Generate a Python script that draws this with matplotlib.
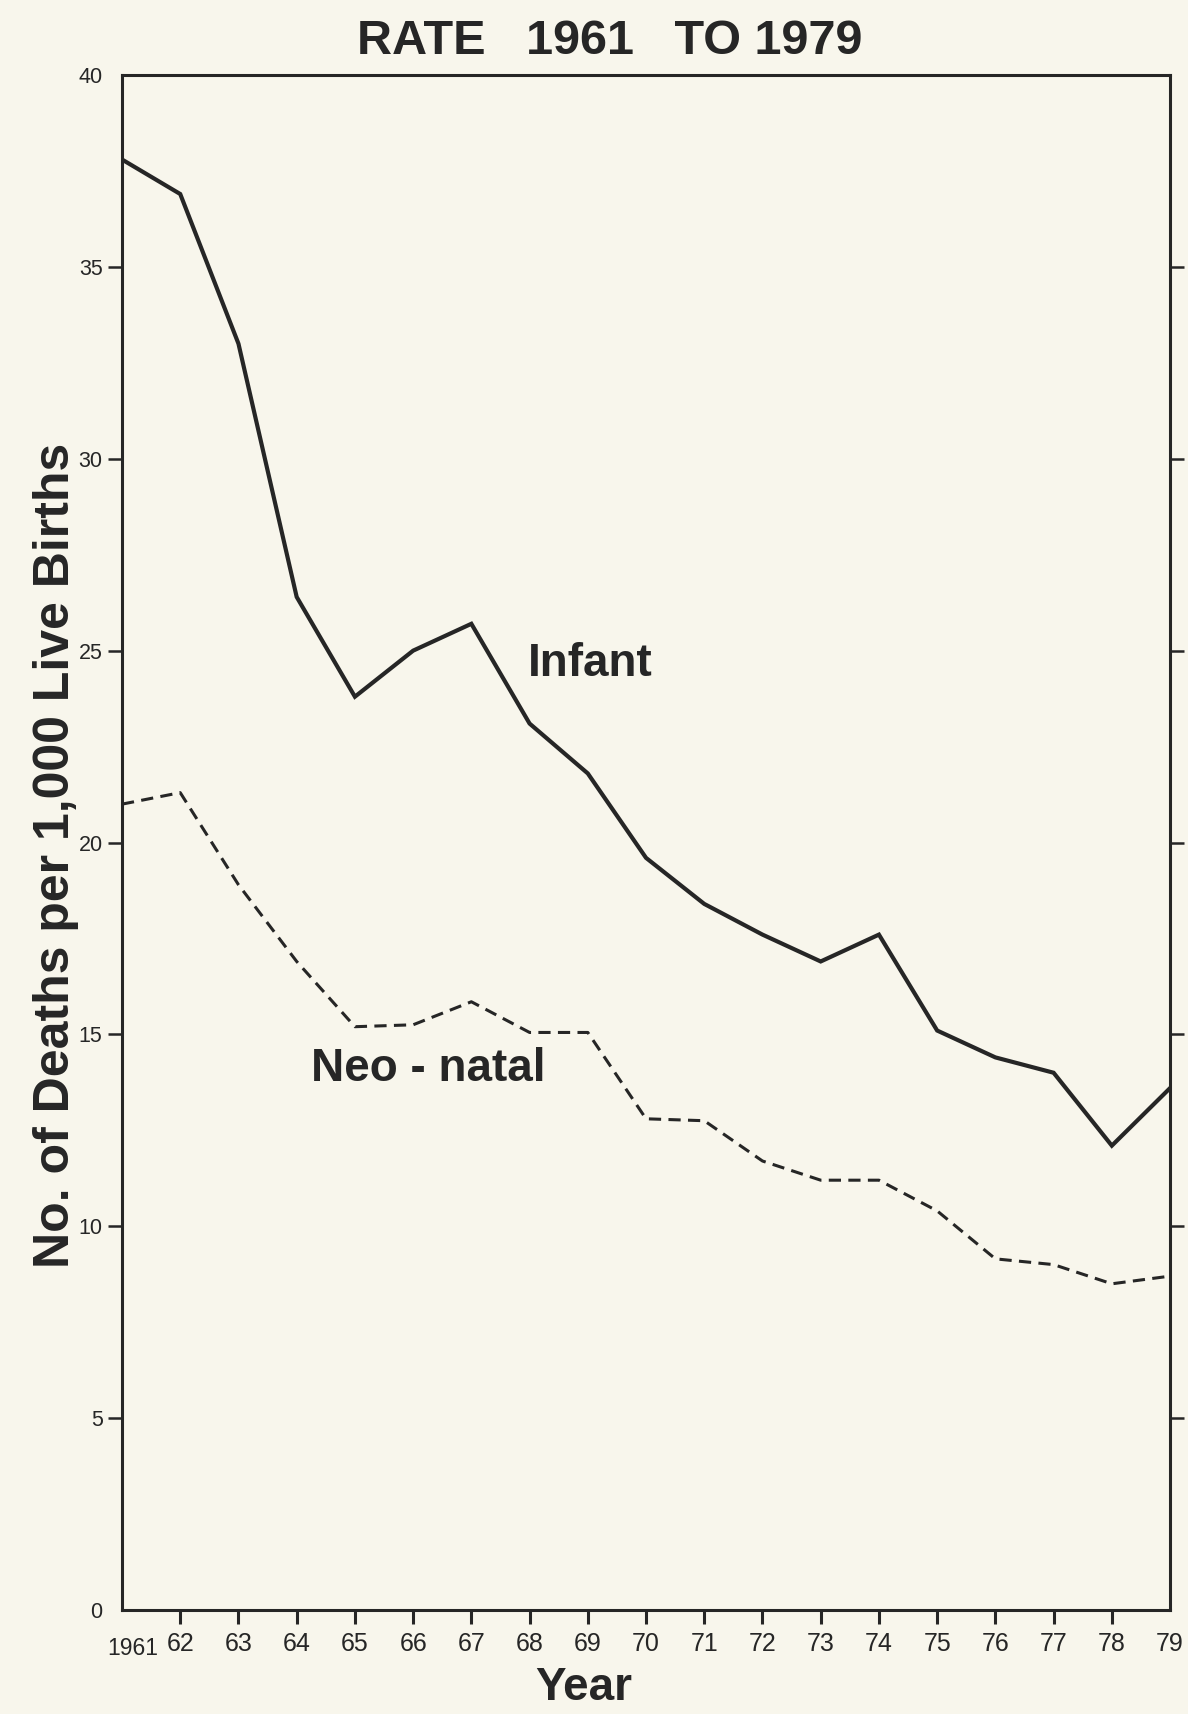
import matplotlib
matplotlib.use("Agg")
import matplotlib.pyplot as plt
from matplotlib.transforms import ScaledTranslation

# valores
years = list(range(1961, 1980))
infant = [37.8, 36.9, 33.0, 26.4, 23.8, 25.0, 25.7, 23.1, 21.8, 19.6,
          18.4, 17.6, 16.9, 17.6, 15.1, 14.4, 14.0, 12.1, 13.6]
neonatal = [21.0, 21.3, 18.9, 16.9, 15.2, 15.25, 15.85, 15.05, 15.05, 12.8,
            12.75, 11.7, 11.2, 11.2, 10.4, 9.15, 9.0, 8.5, 8.7]
xtick_labels = ["1961"] + ["%02d" % (y % 100) for y in range(1962, 1980)]
yticks = [0, 5, 10, 15, 20, 25, 30, 35, 40]

paper = "#f8f6ec"
ink = "#262626"
fuente = ["Liberation Sans", "DejaVu Sans"]

fig = plt.figure(figsize=(11.88, 17.14), dpi=100, facecolor=paper)
ax = fig.add_axes([0.1027, 0.0607, 0.8822, 0.8955], facecolor=paper)

ax.plot(years, infant, color=ink, lw=3.0, solid_joinstyle="miter")
ax.plot(years, neonatal, color=ink, lw=2.2, dashes=(4.0, 2.4))

ax.set_xlim(1961, 1979)
ax.set_ylim(0, 40)

for s in ax.spines.values():
    s.set_linewidth(2.2)
    s.set_color(ink)

ax.set_xticks(years)
ax.set_xticklabels(xtick_labels, family=fuente, fontsize=18, color=ink)
ax.set_yticks(yticks)
ax.set_yticklabels([str(v) for v in yticks], family=fuente, fontsize=15.5, color=ink)
ax.tick_params(axis="x", direction="out", length=10, width=2.2, color=ink, pad=6)
ax.tick_params(axis="y", direction="out", length=10, width=1.8, color=ink, pad=4,
               right=True)
# sin marca en los extremos
for t in [ax.xaxis.get_major_ticks()[0], ax.xaxis.get_major_ticks()[-1]]:
    t.tick1line.set_visible(False)
for t in [ax.yaxis.get_major_ticks()[0], ax.yaxis.get_major_ticks()[-1]]:
    t.tick1line.set_visible(False)
    t.tick2line.set_visible(False)
lab0 = ax.get_xticklabels()[0]
lab0.set_fontsize(16.5)
lab0.set_horizontalalignment("left")
lab0.set_transform(lab0.get_transform() + ScaledTranslation(-0.15, -0.05, fig.dpi_scale_trans))

ax.text(1969.05, 24.66, "Infant", family=fuente, fontweight="bold", fontsize=33,
        color=ink, ha="center", va="center")
ax.text(1966.26, 14.11, "Neo - natal", family=fuente, fontweight="bold", fontsize=33,
        color=ink, ha="center", va="center")

fig.text(0.513, 0.976, "RATE   1961   TO 1979", family=fuente, fontweight="bold",
         fontsize=35, color=ink, ha="center", va="center")
fig.text(0.047, 0.501, "No. of Deaths per 1,000 Live Births", family=fuente,
         fontweight="bold", fontsize=36, color=ink, rotation=90,
         ha="center", va="center")
fig.text(0.491, 0.015, "Year", family=fuente, fontweight="bold", fontsize=33,
         color=ink, ha="center", va="center")

fig.savefig("out.png", dpi=100, facecolor=paper)
